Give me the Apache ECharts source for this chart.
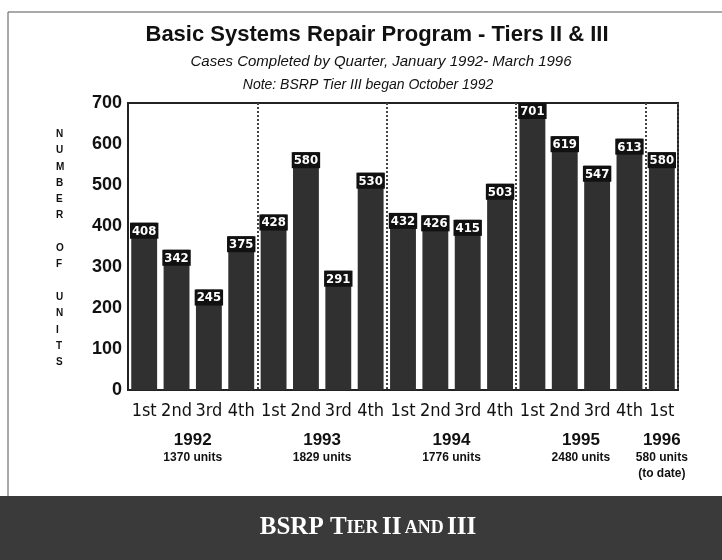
<!DOCTYPE html>
<html>
<head>
<meta charset="utf-8">
<script src="https://cdn.jsdelivr.net/npm/echarts@6/dist/echarts.min.js"></script>
<style>
    html, body { margin: 0; padding: 0; background: #fff; }
    #chart { width: 722px; height: 560px; }
</style>
</head>
<body>
<div id="chart"></div>
<script>
// 季度标签
const quarters = ["1st", "2nd", "3rd", "4th", "1st", "2nd", "3rd", "4th", "1st", "2nd", "3rd", "4th", "1st", "2nd", "3rd", "4th", "1st"];
// 每季度完成数
const units = [408, 342, 245, 375, 428, 580, 291, 530, 432, 426, 415, 503, 701, 619, 547, 613, 580];
// 年份分组
const years = ["1992", "1993", "1994", "1995", "1996"];
const yearQuarters = [4, 4, 4, 4, 1];
const yearTotals = ["1370 units", "1829 units", "1776 units", "2480 units", "580 units\n(to date)"];
const yTicks = [0, 700, 100];

// 每年分组的中心位置（按类目计）
const yearCenters = [];
let start = 0;
yearQuarters.forEach(n => {
    yearCenters.push(start + n / 2);
    start += n;
});
// 分组分隔线所在的类目索引
const yearBreaks = [];
start = 0;
yearQuarters.slice(0, -1).forEach(n => {
    start += n;
    yearBreaks.push(start);
});

const chart = echarts.init(document.getElementById("chart"), null, { renderer: "canvas" });

const narrow = "'DejaVu Sans Condensed', 'Liberation Sans Narrow', sans-serif";
const sans = "'Liberation Sans', Arial, sans-serif";

const option = {
    animation: false,
    backgroundColor: "#fff",
    title: [
        {
            text: "Basic Systems Repair Program - Tiers II & III",
            left: 372, top: 19, textAlign: "center",
            textStyle: { fontFamily: sans, fontWeight: "bold", fontSize: 22, color: "#111" }
        },
        {
            text: "Cases Completed by Quarter, January 1992- March 1996",
            left: 376, top: 49, textAlign: "center",
            textStyle: { fontFamily: sans, fontStyle: "italic", fontWeight: "normal", fontSize: 15, color: "#111" }
        },
        {
            text: "Note: BSRP Tier III began October 1992",
            left: 363, top: 73, textAlign: "center",
            textStyle: { fontFamily: sans, fontStyle: "italic", fontWeight: "normal", fontSize: 14, color: "#111" }
        }
    ],
    grid: {
        left: 128, right: 44, top: 103, bottom: 170,
        show: true, borderColor: "#222", borderWidth: 2, backgroundColor: "transparent"
    },
    xAxis: [
        {
            type: "category",
            data: quarters,
            position: "bottom",
            axisLine: { show: false },
            axisTick: { show: false },
            axisLabel: { fontFamily: narrow, fontSize: 18, color: "#111", margin: 12, interval: 0 },
            splitLine: {
                show: true,
                interval: (i) => yearBreaks.indexOf(i) >= 0,
                lineStyle: { type: "dotted", color: "#444", width: 2 }
            }
        },
        {
            type: "value",
            min: 0,
            max: quarters.length,
            position: "bottom",
            axisLine: { show: false },
            axisTick: { show: false },
            splitLine: { show: false },
            axisLabel: {
                customValues: yearCenters,
                margin: 41,
                verticalAlign: "top",
                align: "center",
                formatter: (v) => {
                    const i = yearCenters.indexOf(v);
                    return "{y|" + years[i] + "}\n{u|" + yearTotals[i].replace("\n", "}\n{u|") + "}";
                },
                rich: {
                    y: { fontFamily: sans, fontWeight: "bold", fontSize: 17, color: "#111", lineHeight: 19 },
                    u: { fontFamily: sans, fontWeight: "bold", fontSize: 12, color: "#111", lineHeight: 16 }
                }
            }
        }
    ],
    yAxis: {
        type: "value",
        min: yTicks[0],
        max: yTicks[1],
        interval: yTicks[2],
        axisLine: { show: false },
        axisTick: { show: false },
        splitLine: { show: false },
        axisLabel: { fontFamily: sans, fontWeight: "bold", fontSize: 18, color: "#111", margin: 6 }
    },
    series: [
        {
            type: "bar",
            data: units,
            xAxisIndex: 0,
            barCategoryGap: "20%",
            itemStyle: { color: "#303030" },
            label: {
                show: true,
                position: "insideTop",
                distance: 0,
                color: "#fff",
                fontFamily: narrow,
                fontWeight: "bold",
                fontSize: 13,
                backgroundColor: "#111",
                padding: [2, 2, 1, 2]
            }
        }
    ],
    graphic: [
        // 外框线
        { type: "line", shape: { x1: 8, y1: 12, x2: 722, y2: 12 }, style: { stroke: "#555", lineWidth: 1 } },
        { type: "line", shape: { x1: 8, y1: 12, x2: 8, y2: 496 }, style: { stroke: "#555", lineWidth: 1 } },
        // 纵轴标题
        {
            type: "text",
            left: 56, top: 126,
            style: {
                text: "N\nU\nM\nB\nE\nR\n\nO\nF\n\nU\nN\nI\nT\nS",
                font: "bold 10px " + sans,
                fill: "#111",
                lineHeight: 16.3,
                align: "center"
            }
        },
        // 底部横幅
        {
            type: "rect",
            shape: { x: 0, y: 496, width: 722, height: 64 },
            style: { fill: "#3a3a3a" }
        },
        {
            type: "text",
            x: 368, y: 528,
            style: {
                text: "{b|BSRP T}{s|IER} {b|II} {s|AND} {b|III}",
                align: "center",
                verticalAlign: "middle",
                rich: {
                    b: { fontFamily: "'Liberation Serif', serif", fontWeight: "bold", fontSize: 25, fill: "#fff" },
                    s: { fontFamily: "'Liberation Serif', serif", fontWeight: "bold", fontSize: 18, fill: "#fff" }
                }
            }
        }
    ]
};

chart.setOption(option);
</script>
</body>
</html>
